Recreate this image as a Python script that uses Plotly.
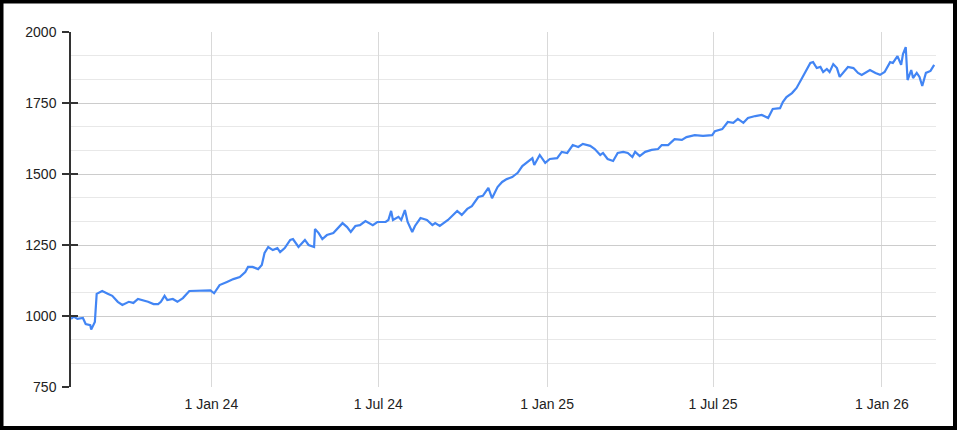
import plotly.graph_objects as go

dates = [
    "2023-08-01", "2023-08-04", "2023-08-08", "2023-08-14", "2023-08-17", "2023-08-22",
    "2023-08-23", "2023-08-27", "2023-08-29", "2023-09-04", "2023-09-10", "2023-09-15",
    "2023-09-21", "2023-09-26", "2023-10-03", "2023-10-08", "2023-10-13", "2023-10-19",
    "2023-10-24", "2023-10-30", "2023-11-04", "2023-11-07", "2023-11-11", "2023-11-14",
    "2023-11-20", "2023-11-25", "2023-12-01", "2023-12-08", "2023-12-31", "2024-01-04",
    "2024-01-08", "2024-01-10", "2024-01-18", "2024-01-25", "2024-02-01", "2024-02-07",
    "2024-02-10", "2024-02-15", "2024-02-21", "2024-02-25", "2024-02-28", "2024-03-03",
    "2024-03-08", "2024-03-13", "2024-03-16", "2024-03-21", "2024-03-27", "2024-03-30",
    "2024-04-05", "2024-04-10", "2024-04-12", "2024-04-16", "2024-04-22", "2024-04-23",
    "2024-04-27", "2024-05-01", "2024-05-06", "2024-05-13", "2024-05-23", "2024-05-28",
    "2024-06-01", "2024-06-06", "2024-06-11", "2024-06-17", "2024-06-25", "2024-06-30",
    "2024-07-09", "2024-07-12", "2024-07-15", "2024-07-17", "2024-07-23", "2024-07-26",
    "2024-07-30", "2024-08-02", "2024-08-07", "2024-08-10", "2024-08-16", "2024-08-23",
    "2024-08-29", "2024-09-01", "2024-09-06", "2024-09-15", "2024-09-25", "2024-09-30",
    "2024-10-06", "2024-10-11", "2024-10-18", "2024-10-23", "2024-10-29", "2024-11-02",
    "2024-11-08", "2024-11-13", "2024-11-18", "2024-11-24", "2024-11-30", "2024-12-05",
    "2024-12-10", "2024-12-16", "2024-12-18", "2024-12-24", "2024-12-30", "2025-01-04",
    "2025-01-12", "2025-01-17", "2025-01-23", "2025-01-29", "2025-02-04", "2025-02-09",
    "2025-02-17", "2025-02-22", "2025-02-28", "2025-03-03", "2025-03-08", "2025-03-14",
    "2025-03-19", "2025-03-25", "2025-03-30", "2025-04-04", "2025-04-07", "2025-04-12",
    "2025-04-18", "2025-04-25", "2025-05-02", "2025-05-06", "2025-05-13", "2025-05-20",
    "2025-05-28", "2025-06-02", "2025-06-11", "2025-06-20", "2025-06-30", "2025-07-03",
    "2025-07-11", "2025-07-17", "2025-07-23", "2025-07-28", "2025-08-03", "2025-08-08",
    "2025-08-16", "2025-08-23", "2025-08-30", "2025-09-04", "2025-09-12", "2025-09-15",
    "2025-09-19", "2025-09-25", "2025-09-28", "2025-09-30", "2025-10-06", "2025-10-09",
    "2025-10-15", "2025-10-18", "2025-10-22", "2025-10-26", "2025-10-29", "2025-11-02",
    "2025-11-05", "2025-11-09", "2025-11-13", "2025-11-16", "2025-11-20", "2025-11-25",
    "2025-12-01", "2025-12-06", "2025-12-10", "2025-12-14", "2025-12-19", "2025-12-25",
    "2025-12-30", "2026-01-04", "2026-01-10", "2026-01-13", "2026-01-18", "2026-01-22",
    "2026-01-24", "2026-01-27", "2026-01-29", "2026-02-02", "2026-02-04", "2026-02-08",
    "2026-02-11", "2026-02-14", "2026-02-18", "2026-02-23", "2026-02-27",
]

values = [
    990, 998, 990, 993, 972, 968,
    952, 979, 1078, 1088, 1078, 1071,
    1050, 1039, 1050, 1046, 1060, 1056,
    1050, 1042, 1042, 1050, 1071, 1056,
    1060, 1050, 1063, 1088, 1090, 1080,
    1102, 1109, 1120, 1130, 1137, 1155,
    1173, 1173, 1165, 1180, 1222, 1243,
    1232, 1239, 1225, 1239, 1268, 1271,
    1243, 1261, 1268, 1250, 1243, 1306,
    1292, 1271, 1285, 1292, 1327, 1313,
    1296, 1317, 1320, 1334, 1320, 1331,
    1331, 1338, 1370, 1338, 1349, 1338,
    1373, 1331, 1296, 1317, 1345, 1338,
    1320, 1327, 1317, 1338, 1370, 1356,
    1377, 1387, 1419, 1423, 1451, 1415,
    1454, 1472, 1482, 1489, 1504, 1528,
    1542, 1556, 1532, 1567, 1539, 1553,
    1556, 1578, 1574, 1602, 1595, 1606,
    1599, 1588, 1567, 1574, 1553, 1546,
    1574, 1578, 1574, 1560, 1578, 1563,
    1578, 1585, 1588, 1602, 1602, 1623,
    1620, 1630, 1637, 1634, 1637, 1651,
    1658, 1683, 1680, 1694, 1680, 1697,
    1704, 1708, 1697, 1729, 1732, 1753,
    1771, 1785, 1796, 1803, 1838, 1856,
    1891, 1894, 1873, 1877, 1859, 1870,
    1859, 1887, 1873, 1842, 1856, 1877,
    1873, 1856, 1849, 1856, 1866, 1856,
    1849, 1859, 1894, 1891, 1915, 1884,
    1922, 1947, 1831, 1866, 1838, 1856,
    1842, 1810, 1856, 1863, 1884,
]

y_ticks = [750, 1000, 1250, 1500, 1750, 2000]
x_range = ["2023-08-01", "2026-03-01"]

W, H = 957, 430
ML, MR, MT, MB = 71, 21, 32, 43
PW, PH = W - ML - MR, H - MT - MB

fig = go.Figure()
fig.add_trace(go.Scatter(
    x=dates, y=values, mode="lines",
    line=dict(color="#4285F4", width=2.2),
    hoverinfo="x+y", showlegend=False,
))
# invisible trace to activate the overlay axis (inside tick marks)
fig.add_trace(go.Scatter(x=[dates[0]], y=[values[0]], yaxis="y2", mode="lines",
                         line=dict(width=0), hoverinfo="skip", showlegend=False))

font = dict(family="Liberation Sans, Arial, sans-serif", size=14, color="#222222")

fig.update_layout(
    width=W, height=H,
    margin=dict(l=ML, r=MR, t=MT, b=MB),
    paper_bgcolor="white", plot_bgcolor="white",
    font=font,
    xaxis=dict(
        range=x_range, type="date",
        tick0="2024-01-01", dtick="M6", tickformat="%-d %b %y",
        showgrid=True, gridcolor="#d9d9d9", gridwidth=1,
        showline=False, ticks="", zeroline=False,
        ticklabelstandoff=7,
        tickfont=font,
    ),
    yaxis=dict(
        range=[750, 2000], tickvals=y_ticks,
        showgrid=True, gridcolor="#cccccc", gridwidth=1,
        minor=dict(dtick=250 / 3, showgrid=True, gridcolor="#e8e8e8", gridwidth=1, ticks=""),
        showline=True, linecolor="#333333", linewidth=1.5,
        ticks="outside", ticklen=7, tickwidth=1.5, tickcolor="#333333",
        ticklabelstandoff=3,
        zeroline=False, tickfont=font,
    ),
    yaxis2=dict(
        range=[750, 2000], tickvals=y_ticks, overlaying="y", side="left",
        showgrid=False, showline=False, showticklabels=False, zeroline=False,
        ticks="inside", ticklen=7, tickwidth=1.5, tickcolor="#333333",
    ),
    shapes=[dict(
        type="rect", xref="paper", yref="paper",
        x0=(1.5 - ML) / PW, x1=(955 - ML) / PW,
        y0=(MT + PH - 428) / PH, y1=(MT + PH - 1.5) / PH,
        line=dict(color="black", width=4), fillcolor="rgba(0,0,0,0)", layer="above",
    )],
)

fig.write_html("out.html", config={"displayModeBar": False},
               post_script="document.body.style.margin='0';")
